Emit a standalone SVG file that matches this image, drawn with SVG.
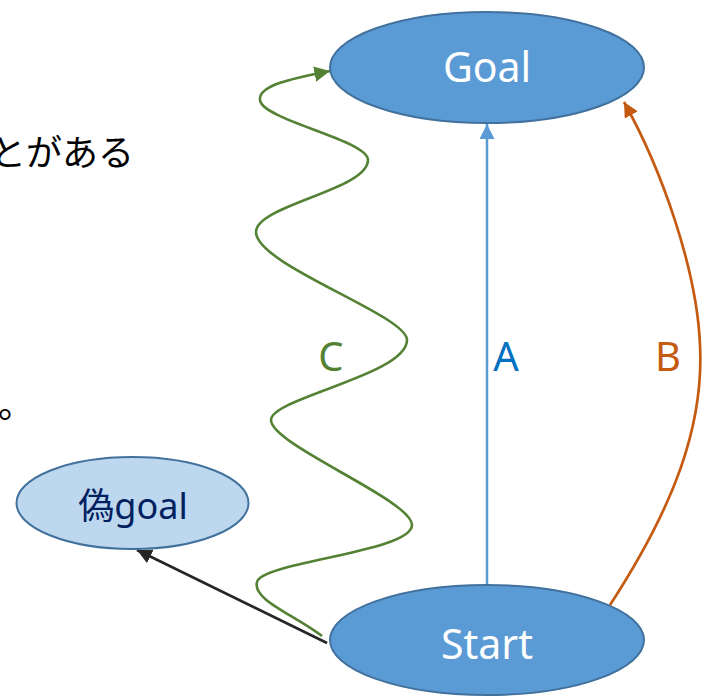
<svg xmlns="http://www.w3.org/2000/svg" width="705" height="699" viewBox="0 0 705 699">
  <style>
    .node { stroke: #41719C; stroke-width: 2; }
    .main { fill: #5B9BD5; }
    .fake { fill: #BDD7EE; }
    .ntext { font-family: "Noto Sans", "Noto Sans CJK JP", sans-serif; font-size: 41px; text-anchor: middle; fill: #FFFFFF; }
    .ftext { font-family: "Noto Sans", "Noto Sans CJK JP", sans-serif; font-size: 36px; text-anchor: middle; fill: #002060; }
    .lbl { font-family: "Noto Sans", sans-serif; font-size: 40px; text-anchor: middle; }
    .body { font-family: "Noto Sans CJK JP", sans-serif; font-size: 36px; fill: #000000; }
    .edge { fill: none; }
  </style>
  <defs>
    <marker id="arrowBlue" viewBox="0 0 10 10" refX="10" refY="5" markerWidth="6" markerHeight="6" orient="auto" markerUnits="strokeWidth">
      <path d="M0,0 L10,5 L0,10 Z" fill="#5B9BD5"/>
    </marker>
    <marker id="arrowOrange" viewBox="0 0 10 10" refX="10" refY="5" markerWidth="5.5" markerHeight="5.5" orient="auto" markerUnits="strokeWidth">
      <path d="M0,0 L10,5 L0,10 Z" fill="#C55A11"/>
    </marker>
    <marker id="arrowGreen" viewBox="0 0 10 10" refX="10" refY="5" markerWidth="6" markerHeight="6" orient="auto" markerUnits="strokeWidth">
      <path d="M0,0 L10,5 L0,10 Z" fill="#548235"/>
    </marker>
    <marker id="arrowBlack" viewBox="0 0 10 10" refX="10" refY="5" markerWidth="5.5" markerHeight="5.5" orient="auto" markerUnits="strokeWidth">
      <path d="M0,0 L10,5 L0,10 Z" fill="#262626"/>
    </marker>
  </defs>

  <!-- body text fragments at the left edge -->
  <text class="body" x="-10" y="166">とがある</text>
  <text class="body" x="-2" y="418">。</text>

  <!-- connectors -->
  <g id="connectors">
    <path id="edge-A" class="edge" d="M487,585 L487,124" stroke="#5B9BD5" stroke-width="2.5" marker-end="url(#arrowBlue)"/>
    <path id="edge-B" class="edge" d="M610,605 C675,505 704,425 700,345 C697,270 662,170 624,102" stroke="#C55A11" stroke-width="2.7" marker-end="url(#arrowOrange)"/>
    <path id="edge-C" class="edge" d="M322,636 C295,615 252,600 257,582 C262,562 412,552 412,525 C412,500 271,445 271,420 C271,398 407,375 407,340 C407,315 256,265 256,232 C256,205 368,190 368,160 C368,140 262,120 260,100 C258,85 295,78 330,71" stroke="#548235" stroke-width="2.6" marker-end="url(#arrowGreen)"/>
    <path id="edge-fake" class="edge" d="M327,643 L137,550" stroke="#262626" stroke-width="2.7" marker-end="url(#arrowBlack)"/>
    <text class="lbl" x="331" y="371" fill="#548235">C</text>
    <text class="lbl" x="506" y="371" fill="#0070C0">A</text>
    <text class="lbl" x="668" y="371" fill="#C55A11">B</text>
  </g>

  <g id="goal">
    <ellipse class="node main" cx="487" cy="67.5" rx="157" ry="55.5"/>
    <text class="ntext" x="487" y="82">Goal</text>
  </g>

  <g id="start">
    <ellipse class="node main" cx="487" cy="640" rx="157" ry="55"/>
    <text class="ntext" x="487" y="659">Start</text>
  </g>

  <g id="fake-goal">
    <ellipse class="node fake" cx="132.5" cy="503" rx="116" ry="46"/>
    <text class="ftext" x="133" y="519">偽goal</text>
  </g>
</svg>
